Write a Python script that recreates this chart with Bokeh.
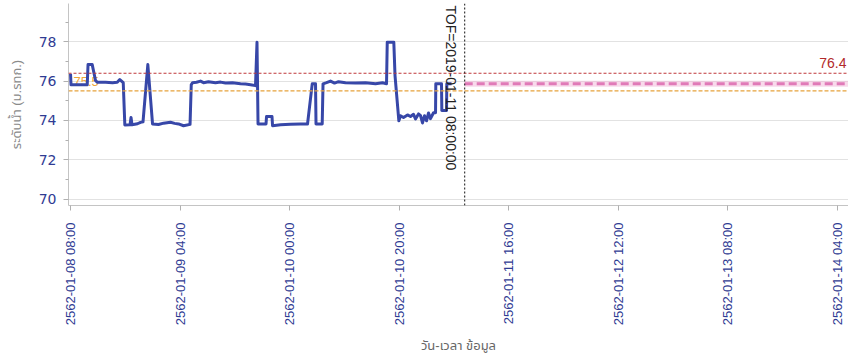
import math
import pandas as pd
from bokeh.plotting import figure
from bokeh.models import Range1d, FixedTicker, CustomJSTickFormatter, Span
from bokeh.core.properties import value
from bokeh.embed import file_html
from bokeh.resources import INLINE

# ---------------- data ----------------
base_time = "2019-01-08 00:00"   # hour offsets below are counted from this time

hours = [8.00, 8.09, 11.05, 11.20, 11.96, 12.57, 12.93, 14.39, 15.67, 16.53, 17.00, 17.63,
         17.92, 18.87, 19.05, 19.23, 20.24, 20.79, 21.24, 22.12, 22.98, 24.07, 24.99, 26.26,
         27.00, 27.73, 28.64, 29.83, 30.05, 30.28, 31.01, 31.74, 32.29, 33.20, 34.48, 35.40,
         36.31, 37.59, 39.05, 39.96, 40.88, 41.79, 42.06, 42.25, 43.71, 43.80, 44.80, 44.90,
         46.36, 48.18, 50.01, 51.29, 52.15, 52.75, 52.84, 53.97, 54.12, 54.76, 55.49, 56.22,
         56.95, 58.23, 60.05, 61.88, 63.71, 64.99, 65.72, 65.85, 67.05, 67.27, 67.97, 68.27,
         68.82, 69.55, 70.10, 70.65, 71.01, 71.56, 71.93, 72.29, 72.66, 73.02, 73.39, 73.75,
         74.30, 74.67, 74.72, 75.76, 75.82, 76.68, 76.73, 77.59]
level = [76.37, 75.81, 75.81, 76.84, 76.84, 76.03, 75.94, 75.94, 75.92, 75.94, 76.08, 75.92,
         73.77, 73.78, 74.15, 73.78, 73.83, 73.90, 73.93, 76.84, 73.82, 73.79, 73.86, 73.91,
         73.85, 73.82, 73.73, 73.80, 75.81, 75.92, 75.94, 76.00, 75.92, 75.97, 75.92, 75.95,
         75.90, 75.92, 75.87, 75.85, 75.82, 75.77, 77.98, 73.82, 73.82, 74.20, 74.20, 73.73,
         73.78, 73.80, 73.82, 73.82, 75.86, 75.86, 73.82, 73.82, 75.86, 75.92, 76.00, 75.90,
         75.97, 75.92, 75.90, 75.92, 75.87, 75.92, 75.87, 77.98, 77.98, 76.28, 73.98, 74.24,
         74.15, 74.28, 74.20, 74.31, 74.07, 74.33, 74.24, 73.87, 74.24, 73.98, 74.38, 74.09,
         74.39, 74.39, 75.86, 75.86, 74.50, 74.50, 75.86, 75.86]

tof_text = "TOF=2019-01-11 08:00:00"
forecast_level = 75.87
red_level = 76.4
orange_level = 75.5

tick_labels = ["2562-01-08 08:00", "2562-01-09 04:00", "2562-01-10 00:00", "2562-01-10 20:00",
               "2562-01-11 16:00", "2562-01-12 12:00", "2562-01-13 08:00", "2562-01-14 04:00"]
y_ticks = [70, 72, 74, 76, 78]
y_minor = [71, 73, 75, 77, 79]

x_title = "วัน-เวลา ข้อมูล"
y_title = "ระดับน้ำ (ม.รทก.)"

# ---------------- derived ----------------
t0 = pd.Timestamp(base_time)

def buddhist_to_hours(s):
    yr = int(s[:4]) - 543
    ts = pd.Timestamp(f"{yr}{s[4:]}")
    return (ts - t0).total_seconds() / 3600.0

tick_hours = [buddhist_to_hours(s) for s in tick_labels]
tof_hour = (pd.Timestamp(tof_text.split("=")[1]) - t0).total_seconds() / 3600.0

x_start, x_end = 7.63, 150.1
y_start, y_end = 69.67, 79.95

FONT = "'Liberation Sans', Tahoma, 'Noto Sans Thai', 'Noto Sans', sans-serif"
NAVY = "#2f3b93"

p = figure(width=848, height=358, output_backend="svg", toolbar_location=None,
           x_range=Range1d(x_start, x_end), y_range=Range1d(y_start, y_end),
           min_border_left=68, min_border_right=0, min_border_top=3, min_border_bottom=153)
p.outline_line_color = None
p.background_fill_color = "white"
p.xgrid.grid_line_color = None
p.ygrid.grid_line_color = "#e2e2e2"
p.ygrid.grid_line_width = 1

# y axis
p.yaxis.ticker = FixedTicker(ticks=y_ticks, minor_ticks=y_minor)
p.yaxis.axis_line_color = "#c4c4c4"
p.yaxis.major_tick_line_color = "#b0b0b0"
p.yaxis.minor_tick_line_color = "#b0b0b0"
p.yaxis.major_tick_out = 5
p.yaxis.major_tick_in = 0
p.yaxis.minor_tick_out = 3
p.yaxis.minor_tick_in = 0
p.yaxis.major_label_text_font = "DejaVu Sans"
p.yaxis.major_label_text_font_size = "14px"
p.yaxis.major_label_text_color = NAVY
p.yaxis.major_label_standoff = 7
p.yaxis.axis_label = y_title
p.yaxis.axis_label_text_font = FONT
p.yaxis.axis_label_text_font_style = "normal"
p.yaxis.axis_label_text_font_size = "13px"
p.yaxis.axis_label_text_color = "#8a8a8a"
p.yaxis.axis_label_standoff = 12

# x axis
p.xaxis.ticker = FixedTicker(ticks=tick_hours, minor_ticks=[])
p.xaxis.formatter = CustomJSTickFormatter(args=dict(tvals=tick_hours, tlabels=tick_labels), code="""
    for (let i = 0; i < tvals.length; i++) { if (Math.abs(tvals[i] - tick) < 1e-6) return tlabels[i]; }
    return "";
""")
p.xaxis.major_label_orientation = math.pi / 2
p.xaxis.axis_line_color = "#c4c4c4"
p.xaxis.major_tick_line_color = "#b0b0b0"
p.xaxis.major_tick_out = 5
p.xaxis.major_tick_in = 0
p.xaxis.major_label_text_font = FONT
p.xaxis.major_label_text_font_size = "13px"
p.xaxis.major_label_text_color = NAVY
p.xaxis.major_label_standoff = 12
p.xaxis.axis_label = x_title
p.xaxis.axis_label_text_font = FONT
p.xaxis.axis_label_text_font_style = "normal"
p.xaxis.axis_label_text_font_size = "13px"
p.xaxis.axis_label_text_color = "#666666"
p.xaxis.axis_label_standoff = 10

# threshold lines
p.add_layout(Span(location=red_level, dimension="width", line_color="#c0393b",
                  line_dash="3 2", line_width=1.2))
p.add_layout(Span(location=orange_level, dimension="width", line_color="#e6a23c",
                  line_dash="4 2", line_width=1.2))

p.text(x=[x_end], y=[red_level], text=[f"{red_level}"], x_offset=-2, y_offset=-5,
       text_align="right", text_baseline="bottom", text_font=value(FONT),
       text_font_size="14px", text_color="#b22a2a")

# orange threshold label, anchored at the first observation time
p.text(x=[hours[0]], y=[orange_level], text=[f"{orange_level}"], x_offset=3, y_offset=-5,
       text_align="left", text_baseline="bottom", text_font=value(FONT),
       text_font_size="13px", text_color="#eea53a")

# observed series
p.line(hours, level, line_color="#3747a8", line_width=3, line_join="round")

# forecast line after TOF
p.line([tof_hour, x_end], [forecast_level, forecast_level], line_color="#f2b5d8",
       line_width=6, line_alpha=0.5)
p.line([tof_hour, x_end], [forecast_level, forecast_level], line_color="#e07ab8",
       line_width=3, line_dash="8 4")

# TOF marker
p.add_layout(Span(location=tof_hour, dimension="height", line_color="#111111",
                  line_dash="2 2", line_width=1))
p.text(x=[tof_hour], y=[y_end], text=[tof_text], angle=-math.pi / 2,
       x_offset=-6, y_offset=2, text_align="left", text_baseline="top",
       text_font=value(FONT), text_font_size="14px", text_color="#222222")

open("out.html", "w").write(file_html(p, INLINE))
